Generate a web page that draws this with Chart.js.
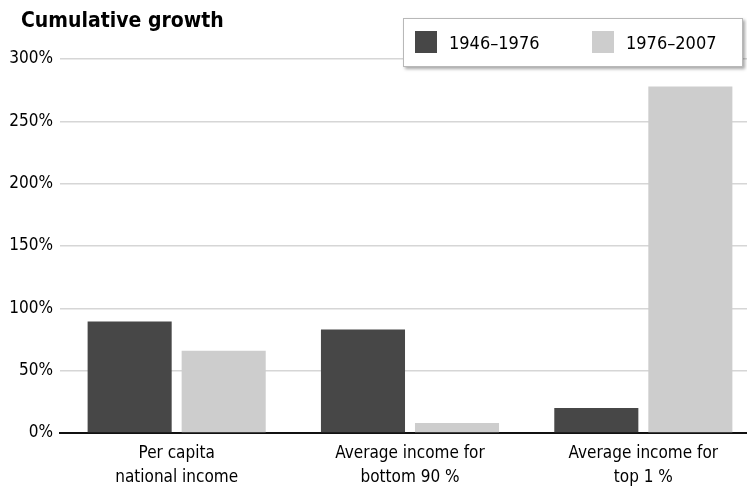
<!DOCTYPE html>
<html>
<head>
<meta charset="utf-8">
<script src="https://cdn.jsdelivr.net/npm/chart.js@4/dist/chart.umd.min.js"></script>
<style>
html, body { margin: 0; padding: 0; background: #fff; overflow: hidden; }
#wrap { width: 760px; height: 489px; }
</style>
</head>
<body>
<div id="wrap"><canvas id="chart"></canvas></div>
<script>
var chartTitle = "Cumulative growth";
var categories = [["Per capita", "national income"], ["Average income for", "bottom 90 %"], ["Average income for", "top 1 %"]];
var periods = ["1946–1976", "1976–2007"];
var growthEarly = [89.5, 83, 20];
var growthLate = [66, 8, 278];
var yTicks = [0, 50, 100, 150, 200, 250, 300];
var yTickLabels = ["0%", "50%", "100%", "150%", "200%", "250%", "300%"];

var FONT = "'DejaVu Sans Condensed', 'Liberation Sans Narrow', sans-serif";

// title + boxed legend, drawn by hand like the original
var headerPlugin = {
  id: "header",
  afterDraw: function (chart) {
    var ctx = chart.ctx;
    ctx.save();
    ctx.fillStyle = "#000";
    ctx.font = "bold 21px " + FONT;
    ctx.textBaseline = "alphabetic";
    ctx.fillText(chartTitle, 21, 27);

    ctx.shadowColor = "rgba(0,0,0,0.35)";
    ctx.shadowOffsetX = 2;
    ctx.shadowOffsetY = 2;
    ctx.shadowBlur = 3;
    ctx.fillStyle = "#fff";
    ctx.fillRect(403, 18, 340, 49);
    ctx.shadowColor = "transparent";
    ctx.strokeStyle = "#b8b8b8";
    ctx.lineWidth = 1;
    ctx.strokeRect(403.5, 18.5, 339, 48);

    var xs = [415, 592];
    ctx.font = "18px " + FONT;
    chart.data.datasets.forEach(function (ds, i) {
      ctx.fillStyle = ds.backgroundColor;
      ctx.fillRect(xs[i], 31, 22, 22);
      ctx.fillStyle = "#000";
      ctx.fillText(ds.label, xs[i] + 34, 49);
    });
    ctx.restore();
  }
};

var chart = new Chart(document.getElementById("chart"), {
  type: "bar",
  data: {
    labels: categories,
    datasets: [
      { label: periods[0], data: growthEarly, backgroundColor: "#474747" },
      { label: periods[1], data: growthLate, backgroundColor: "#cdcdcd" }
    ]
  },
  options: {
    responsive: true,
    maintainAspectRatio: false,
    animation: false,
    categoryPercentage: 0.806,
    barPercentage: 0.894,
    layout: { padding: { top: 59, bottom: 0, left: 0, right: 0 } },
    plugins: {
      legend: { display: false },
      title: { display: false },
      tooltip: { enabled: false }
    },
    scales: {
      x: {
        afterFit: function (scale) { scale.height = 56; },
        grid: { display: false, drawTicks: false },
        border: { display: true, color: "#111", width: 2 },
        ticks: { color: "#000", padding: 9, font: { family: FONT, size: 17, lineHeight: 1.4 } }
      },
      y: {
        min: 0,
        max: 300,
        afterFit: function (scale) { scale.width = 60; },
        afterBuildTicks: function (scale) {
          scale.ticks = yTicks.map(function (v) { return { value: v }; });
        },
        grid: { color: "#d6d6d6", lineWidth: 1.5, drawTicks: false },
        border: { display: false },
        ticks: {
          color: "#000",
          padding: 7,
          font: { family: FONT, size: 17 },
          callback: function (v) { return yTickLabels[yTicks.indexOf(v)]; }
        }
      }
    }
  },
  plugins: [headerPlugin]
});
</script>
</body>
</html>
